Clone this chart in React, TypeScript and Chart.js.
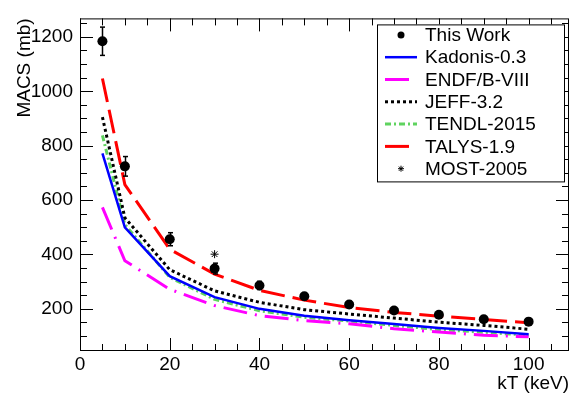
import { useEffect, useRef } from 'react';
import { Chart, registerables } from 'chart.js';

Chart.register(...registerables);

// ---- data ----
const energies = [5, 10, 20, 30, 40, 50, 60, 70, 80, 90, 100];
const thisWork = [1184, 724, 456, 348, 286, 246, 216, 194, 178, 162, 153];
const thisWorkErr = [52, 36, 24, 20, 15, 12, 12, 10, 9, 8, 8];
const kadonis = [772, 500, 320, 243, 200, 175, 158, 144, 130, 119, 107];
const endf = [573, 377, 272, 212, 175, 157, 145, 127, 115, 103, 97];
const jeff = [905, 535, 344, 266, 224, 197, 181, 166, 151, 139, 125];
const tendl = [838, 510, 316, 235, 193, 169, 155, 139, 124, 114, 103];
const talys = [1047, 657, 419, 328, 268, 232, 205, 187, 173, 161, 149];
const mostX = [30];
const most = [401];
const xTicks = [0, 20, 40, 60, 80, 100];
const yTicks = [200, 400, 600, 800, 1000, 1200];
const legendLabels = ['This Work', 'Kadonis-0.3', 'ENDF/B-VIII', 'JEFF-3.2', 'TENDL-2015', 'TALYS-1.9', 'MOST-2005'];

const FONT = "'Liberation Sans', Arial, Helvetica, sans-serif";

const pts = (xs: number[], ys: number[]) => xs.map((x, i) => ({ x, y: ys[i] }));

const lineDs = (label: string, ys: number[], color: string, dash: number[], width: number) => ({
  label,
  data: pts(energies, ys),
  showLine: true,
  borderColor: color,
  backgroundColor: color,
  borderWidth: width,
  borderDash: dash,
  borderCapStyle: 'butt',
  pointRadius: 0,
  pointHoverRadius: 0,
  tension: 0,
});

const framePlugin = {
  id: 'rootFrame',
  afterDatasetsDraw(chart: any) {
    const { ctx, chartArea: a, scales } = chart;
    const x = scales.x, y = scales.y;
    ctx.save();
    ctx.strokeStyle = '#000';
    ctx.lineWidth = 1;
    const seg = (x1: number, y1: number, x2: number, y2: number) => {
      ctx.beginPath(); ctx.moveTo(x1, y1); ctx.lineTo(x2, y2); ctx.stroke();
    };
    // error bars for "This Work"
    const meta = chart.getDatasetMeta(0);
    meta.data.forEach((el: any, i: number) => {
      const v = thisWork[i], e = thisWorkErr[i];
      const px = Math.round(el.x) + 0.5;
      const top = y.getPixelForValue(v + e), bot = y.getPixelForValue(v - e);
      ctx.lineWidth = 1.5;
      seg(px, top, px, bot);
      seg(px - 2.5, top, px + 2.5, top);
      seg(px - 2.5, bot, px + 2.5, bot);
    });
    ctx.lineWidth = 1;
    // frame
    ctx.strokeRect(a.left + 0.5, a.top + 0.5, a.right - a.left - 1, a.bottom - a.top - 1);
    // x ticks (major 20, minor 5)
    for (let v = x.min; v <= x.max; v += 5) {
      const px = Math.round(x.getPixelForValue(v)) + 0.5;
      const len = xTicks.includes(v) ? 13 : 7;
      seg(px, a.bottom, px, a.bottom - len);
      seg(px, a.top, px, a.top + len);
    }
    // y ticks (major 200, minor 50)
    for (let v = 50; v <= y.max; v += 50) {
      const py = Math.round(y.getPixelForValue(v)) + 0.5;
      if (py < a.top || py > a.bottom) continue;
      const len = yTicks.includes(v) ? 13 : 7;
      seg(a.left, py, a.left + len, py);
      seg(a.right, py, a.right - len, py);
    }
    ctx.restore();
  },
};

const legendPlugin = {
  id: 'rootLegend',
  afterDraw(chart: any) {
    const { ctx, chartArea: a } = chart;
    const bx = a.right - 192, by = a.top + 6, bw = 187, bh = 157;
    ctx.save();
    ctx.fillStyle = '#fff';
    ctx.fillRect(bx, by, bw, bh);
    ctx.strokeStyle = '#000';
    ctx.lineWidth = 1;
    ctx.strokeRect(bx + 0.5, by + 0.5, bw, bh);
    const rowH = 22.3;
    chart.data.datasets.forEach((ds: any, i: number) => {
      const cy = by + 10.5 + i * rowH;
      const sx1 = bx + 8, sx2 = bx + 40, sxm = bx + 24;
      if (ds.showLine) {
        ctx.strokeStyle = ds.borderColor;
        ctx.lineWidth = ds.borderWidth;
        ctx.setLineDash(ds.borderDash || []);
        ctx.beginPath(); ctx.moveTo(sx1, cy); ctx.lineTo(sx2, cy); ctx.stroke();
        ctx.setLineDash([]);
      } else if (ds.pointStyle === 'star') {
        ctx.strokeStyle = '#000';
        ctx.lineWidth = 1;
        const r = 3;
        for (let k = 0; k < 4; k++) {
          const ang = (k * Math.PI) / 4;
          ctx.beginPath();
          ctx.moveTo(sxm - r * Math.cos(ang), cy - r * Math.sin(ang));
          ctx.lineTo(sxm + r * Math.cos(ang), cy + r * Math.sin(ang));
          ctx.stroke();
        }
      } else {
        ctx.fillStyle = '#000';
        ctx.beginPath(); ctx.arc(sxm, cy, 3.5, 0, Math.PI * 2); ctx.fill();
      }
      ctx.fillStyle = '#000';
      ctx.font = `19px ${FONT}`;
      ctx.textBaseline = 'middle';
      ctx.textAlign = 'left';
      ctx.fillText(legendLabels[i], bx + 48, cy + 1);
    });
    ctx.restore();
  },
};

export default function App() {
  const ref = useRef<HTMLCanvasElement | null>(null);
  useEffect(() => {
    if (!ref.current) return;
    const chart = new Chart(ref.current, {
      type: 'scatter',
      data: {
        datasets: [
          {
            label: legendLabels[0],
            data: pts(energies, thisWork),
            showLine: false,
            pointRadius: 5,
            pointBackgroundColor: '#000',
            pointBorderColor: '#000',
            pointBorderWidth: 0,
          },
          lineDs(legendLabels[1], kadonis, '#0000ff', [], 2.5),
          lineDs(legendLabels[2], endf, '#ff00ff', [24, 8, 2, 8], 3),
          lineDs(legendLabels[3], jeff, '#000000', [3, 3], 3),
          lineDs(legendLabels[4], tendl, '#5fd35f', [6, 3, 2, 3], 3),
          lineDs(legendLabels[5], talys, '#ff0000', [24, 8], 3),
          {
            label: legendLabels[6],
            data: pts(mostX, most),
            showLine: false,
            pointStyle: 'star',
            pointRadius: 4,
            pointBorderColor: '#000',
            pointBackgroundColor: '#000',
            pointBorderWidth: 1,
          },
        ] as any,
      },
      options: {
        animation: false,
        responsive: false,
        devicePixelRatio: 1,
        layout: { padding: { top: 13, right: 10, left: 0, bottom: 0 } },
        plugins: { legend: { display: false }, tooltip: { enabled: false } },
        events: [],
        scales: {
          x: {
            type: 'linear',
            min: 0,
            max: 109,
            grid: { display: false, drawTicks: false },
            border: { display: false },
            afterBuildTicks: (s: any) => { s.ticks = xTicks.map((v) => ({ value: v })); },
            afterFit: (s: any) => { s.height = 44; },
            ticks: {
              color: '#000',
              font: { family: FONT, size: 19 },
              padding: 2,
              maxRotation: 0,
              callback: (v: any) => String(v),
            },
            title: {
              display: true,
              text: 'kT (keV)',
              align: 'end',
              color: '#000',
              font: { family: FONT, size: 19 },
              padding: { top: 0, bottom: 0 },
            },
          },
          y: {
            type: 'linear',
            min: 45,
            max: 1268,
            grid: { display: false, drawTicks: false },
            border: { display: false },
            afterBuildTicks: (s: any) => { s.ticks = yTicks.map((v) => ({ value: v })); },
            afterFit: (s: any) => { s.width = 80; },
            ticks: {
              color: '#000',
              font: { family: FONT, size: 19 },
              padding: 7,
              callback: (v: any) => String(v),
            },
            title: {
              display: true,
              text: 'MACS (mb)',
              align: 'end',
              color: '#000',
              font: { family: FONT, size: 19 },
              padding: { top: 13, bottom: 0 },
            },
          },
        },
      } as any,
      plugins: [framePlugin, legendPlugin],
    });
    return () => chart.destroy();
  }, []);
  return (
    <div style={{ position: 'fixed', left: 0, top: 0, width: 579, height: 395 }}>
      <canvas ref={ref} width={579} height={395} />
    </div>
  );
}
